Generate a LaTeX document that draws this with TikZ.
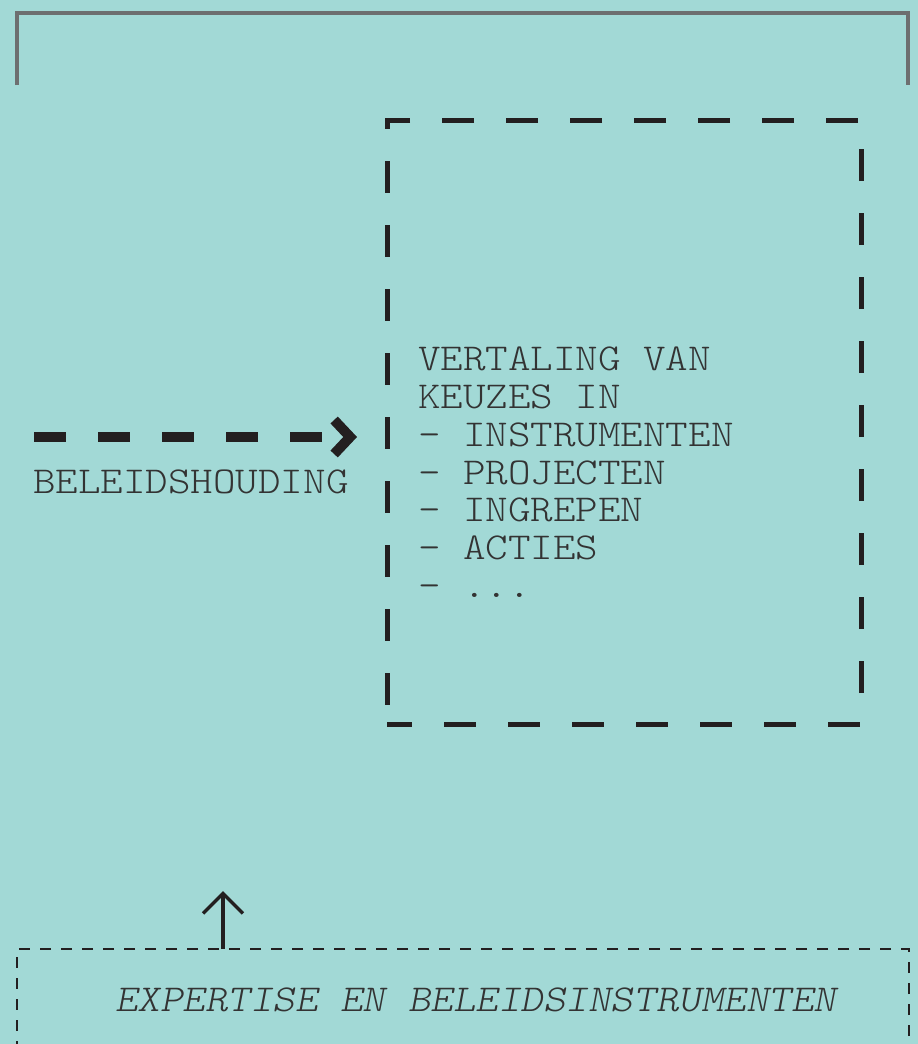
\documentclass[tikz,border=0pt]{standalone}
\usepackage{fontspec}
\setmonofont{lmmonolt10-regular.otf}[ItalicFont=lmmonolt10-oblique.otf, FakeStretch=1.13]
\usepackage{tikz}
\usetikzlibrary{positioning, arrows.meta}
\definecolor{mintBg}{HTML}{A2D9D6}
\definecolor{frameGray}{HTML}{6D6F70}
\definecolor{inkBlack}{HTML}{231F20}
\definecolor{textGray}{HTML}{333333}
\newcommand{\diagfont}{\ttfamily\fontsize{38}{37.8}\selectfont}

\begin{document}
\begin{tikzpicture}[
    x=1pt, y=-1pt,
    font=\diagfont,
    textlabel/.style={inner sep=0pt, outer sep=0pt, text=textGray, align=left},
    bigbox/.style={rectangle, draw=inkBlack, line width=5pt, dash pattern=on 32pt off 32pt, dash phase=7pt, minimum width=474pt, minimum height=604pt, inner sep=0pt, outer sep=0pt},
    basebox/.style={rectangle, draw=inkBlack, line width=2.5pt, dash pattern=on 11pt off 10pt, minimum width=892pt, minimum height=140pt, inner sep=0pt, outer sep=0pt},
    dasharrow/.style={-{Straight Barb[length=16pt, width=34pt]}, line width=10pt, draw=inkBlack, dash pattern=on 32pt off 32pt},
    uparrow/.style={-{Straight Barb[length=20pt, width=40pt]}, line width=3.5pt, draw=inkBlack}
]
\fill[mintBg] (0,0) rectangle (918,1044);
\useasboundingbox (0,0) rectangle (918,1044);
\clip (0,0) rectangle (918,1044);

% bracket at the top
\draw[frameGray, line width=4.5pt] (17,85) -- (17,13) -- (908,13) -- (908,85);

\node[bigbox] (keuzebox) at (624,422) {};
\node[textlabel, anchor=north west] (keuzes) at ([shift={(31,227)}]keuzebox.north west)
    {VERTALING VAN\\KEUZES IN\\- INSTRUMENTEN\\- PROJECTEN\\- INGREPEN\\- ACTIES\\- ...};

\coordinate (arrowstart) at (34,437);
\draw[dasharrow, shorten >=30pt] (arrowstart) -- (arrowstart -| keuzebox.west);
\node[textlabel, below right=33pt and -1pt of arrowstart] (beleid) {BELEIDSHOUDING};

\node[basebox] (basebox) at (463,1019) {};
\node[textlabel, font=\diagfont\itshape, below right=39pt and 98pt of basebox.north west] (expertise)
    {EXPERTISE EN BELEIDSINSTRUMENTEN};

\coordinate (uptip) at (223,891);
\draw[uparrow] (basebox.north west -| uptip) -- (uptip);

\end{tikzpicture}
\end{document}
